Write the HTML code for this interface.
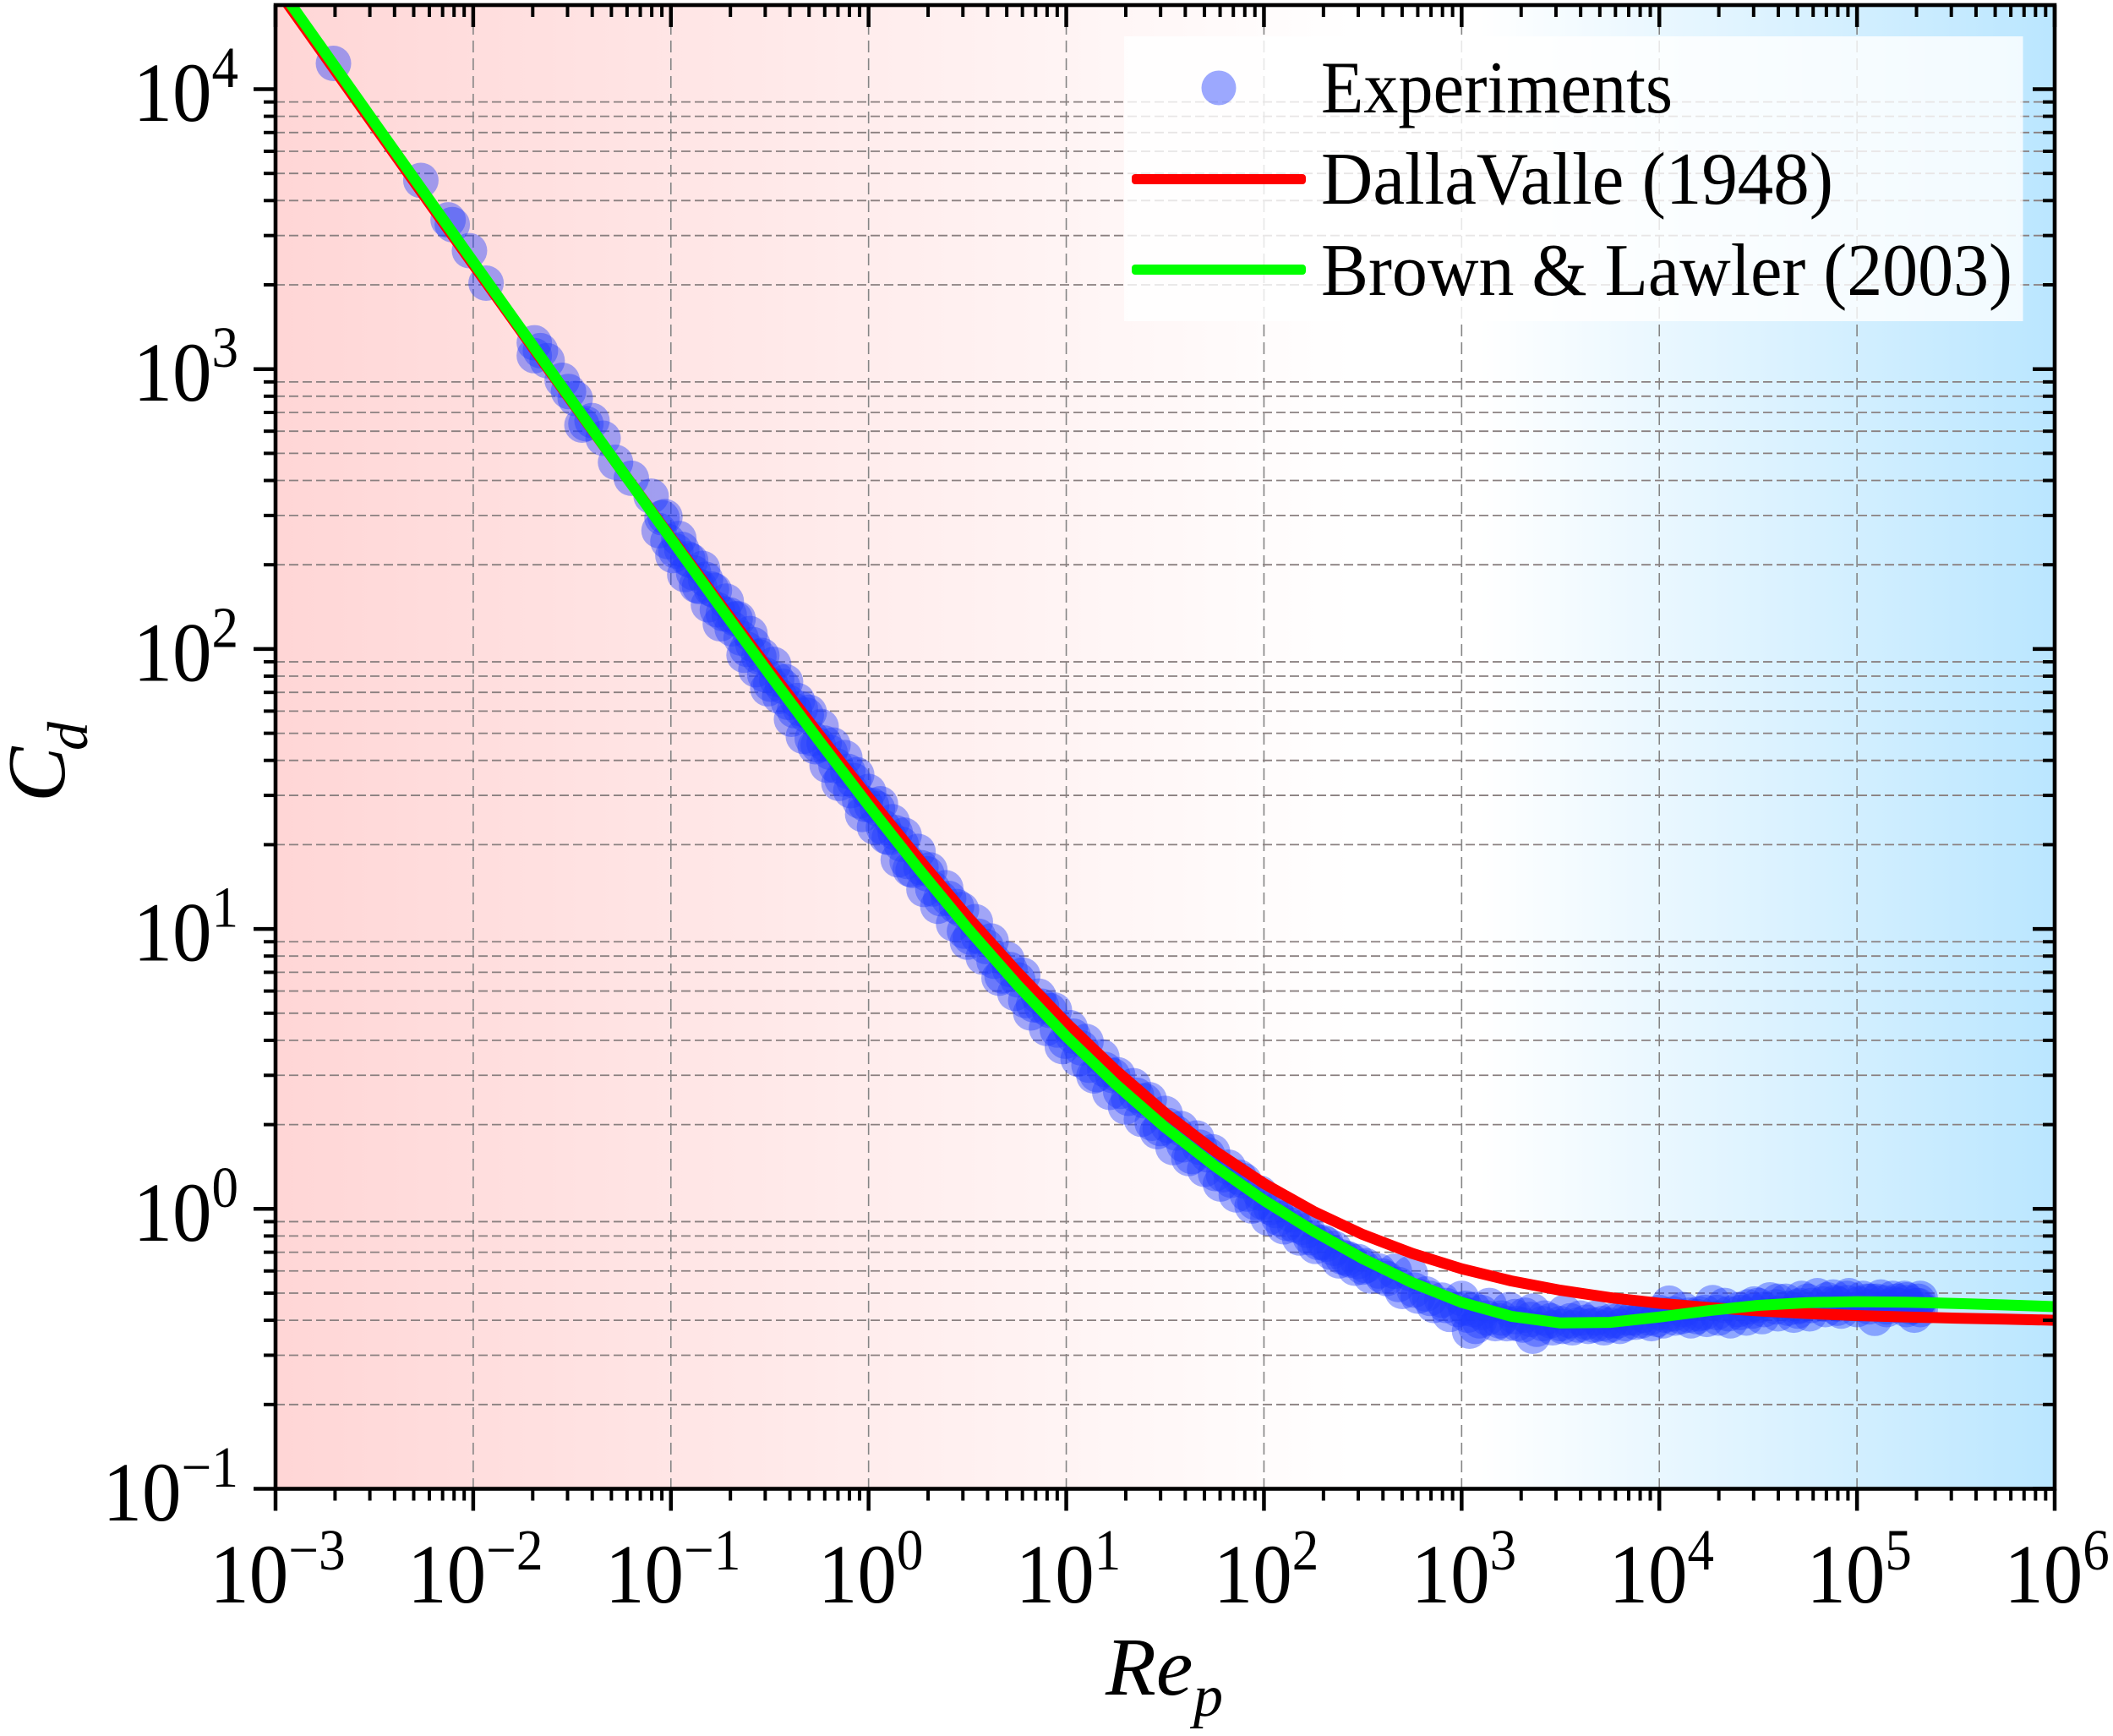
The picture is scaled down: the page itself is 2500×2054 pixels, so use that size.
<!DOCTYPE html>
<html lang="en">
<head>
<meta charset="utf-8">
<title>Drag coefficient vs particle Reynolds number</title>
<style>
html,body{margin:0;padding:0;background:#fff;width:2500px;height:2054px;overflow:hidden}
svg{display:block}
text{font-family:"Liberation Serif","Times New Roman",serif;fill:#000}
</style>
</head>
<body>
<svg id="chart" xmlns="http://www.w3.org/2000/svg" width="2500" height="2054" viewBox="0 0 2500 2054">
<defs>
<linearGradient id="bgGrad" x1="0" y1="0" x2="1" y2="0">
<stop offset="0" stop-color="#ffd6d6"/>
<stop offset="0.605" stop-color="#ffffff"/>
<stop offset="0.677" stop-color="#ffffff"/>
<stop offset="1" stop-color="#bae6ff"/>
</linearGradient>
<clipPath id="plotClip"><rect x="326" y="6" width="2105" height="1755.5"/></clipPath>
</defs>
<rect x="326" y="6" width="2105" height="1755.5" fill="url(#bgGrad)"/>
<g id="grid"></g>
<g id="scatter" clip-path="url(#plotClip)"></g>
<g id="curves" clip-path="url(#plotClip)"></g>
<g id="ticks"></g>
<g id="spines"></g>
<g id="labels"></g>
<text x="1308" y="2005" font-size="98" font-style="italic">Re</text>
<text x="1412" y="2030" font-size="70" font-style="italic">p</text>
<text transform="translate(76 949) rotate(-90)" font-size="98" font-style="italic">C</text>
<text transform="translate(103 888) rotate(-90)" font-size="68" font-style="italic">d</text>
<g>
<rect x="1330" y="43" width="1063.5" height="337" fill="#ffffff" fill-opacity="0.8"/>
<ellipse cx="1442" cy="104" rx="20.5" ry="20.5" fill="rgb(30,60,255)" fill-opacity="0.44"/>
<rect x="1339" y="206" width="206" height="12" rx="4" fill="#ff0000"/>
<rect x="1339" y="313" width="206" height="12" rx="4" fill="#00ff00"/>
<text x="1563" y="133" font-size="88" textLength="416" lengthAdjust="spacingAndGlyphs">Experiments</text>
<text x="1563" y="241" font-size="88" textLength="606" lengthAdjust="spacingAndGlyphs">DallaValle (1948)</text>
<text x="1563" y="349" font-size="88" textLength="818" lengthAdjust="spacingAndGlyphs">Brown &amp; Lawler (2003)</text>
</g>
</svg>
<script>
// ---- Axis tick data ----
const xTickExponents = [-3,-2,-1,0,1,2,3,4,5,6];
const yTickExponents = [-1,0,1,2,3,4];
const minorMultipliers = [2,3,4,5,6,7,8,9];

// ---- Model curves ----
const curveRe = [1e-3,1.78e-3,3.16e-3,5.62e-3,1e-2,1.78e-2,3.16e-2,5.62e-2,1e-1,1.78e-1,3.16e-1,5.62e-1,1,1.78,3.16,5.62,1e1,1.78e1,3.16e1,5.62e1,1e2,1.78e2,3.16e2,5.62e2,1e3,1.78e3,3.16e3,5.62e3,1e4,1.78e4,3.16e4,5.62e4,1e5,1.78e5,3.16e5,5.62e5,1e6];
const dallaValleCd = [23232,13101,7394,4178,2365,1341,763,435.6,249.9,144.3,84.0,49.43,29.48,17.89,11.08,7.044,4.613,3.127,2.201,1.613,1.232,0.980,0.810,0.693,0.611,0.553,0.512,0.482,0.460,0.444,0.432,0.423,0.416,0.411,0.407,0.404,0.400];
const brownLawlerCd = [24033,13523,7612,4287,2415.6,1362.6,769.7,435.8,247.5,141.2,81.09,47.0,27.6,16.49,10.08,6.343,4.127,2.787,1.956,1.426,1.073,0.8327,0.6639,0.545,0.4633,0.4133,0.3912,0.3932,0.4106,0.4331,0.4519,0.4627,0.4661,0.4642,0.4595,0.4536,0.4474];

// ---- Experimental points, as log10(Re_p) and log10(C_d) ----
const expLogRe = [
-2.707,-2.265,-2.127,-2.106,-2.019,-1.935,-1.691,-1.691,-1.66,-1.626,-1.55,-1.518,-1.484,-1.45,-1.43,-1.399,-1.343,-1.28,-1.2,
-1.10,-1.06,-1.03,-0.99,-0.96,-0.93,-0.9,-0.87,-0.84,-0.81,-0.78,-0.75,-0.72,-0.69,-0.66,-0.63,-0.6,-0.57,-0.54,-0.51,
-0.48,-0.45,-0.42,-0.39,-0.36,-0.33,-0.3,-0.27,-0.24,-0.21,-0.18,-0.15,-0.12,-0.09,-0.06,-0.03,0,0.03,0.06,0.09,
0.12,0.15,0.18,0.21,0.25,0.28,0.31,0.35,0.39,0.43,0.47,0.5,0.54,0.58,0.62,0.66,0.7,0.74,0.78,0.82,
0.86,0.9,0.94,0.98,1.02,1.06,1.1,1.14,1.18,1.22,1.26,1.3,1.34,1.38,1.42,1.46,1.5,1.54,1.58,1.62,
1.66,1.7,1.74,1.78,1.82,1.86,1.9,1.94,1.98,2.02,2.06,2.1,2.14,2.18,2.22,2.26,2.3,2.34,2.38,2.42,
2.46,2.5,2.54,2.58,2.62,2.66,2.7,2.74,2.78,2.82,2.86,2.9,2.94,2.98,3.0,3.02,3.04,3.06,3.07,3.1,
3.14,3.17,3.2,3.24,3.28,3.32,3.36,3.36,3.38,3.42,3.46,3.5,3.52,3.56,3.6,3.64,3.68,3.72,3.76,3.8,
3.84,3.88,3.92,3.96,4.0,4.02,4.05,4.08,4.12,4.16,4.2,4.24,4.27,4.3,4.33,4.36,4.4,4.44,4.48,4.5,
4.52,4.56,4.6,4.64,4.68,4.7,4.72,4.76,4.8,4.84,4.88,4.9,4.92,4.96,5.0,5.03,5.05,5.06,5.09,5.12,
5.15,5.18,5.2,5.21,5.24,5.27,5.29,5.3,5.31,5.32,5.32
];
const expLogCd = [
4.092,3.674,3.533,3.516,3.423,3.307,3.094,3.048,3.066,3.03,2.96,2.92,2.895,2.80,2.805,2.816,2.753,2.667,2.61,
2.546,2.423,2.473,2.334,2.395,2.266,2.316,2.227,2.288,2.158,2.209,2.09,2.171,2.072,2.108,1.978,2.055,1.926,1.977,1.858,
1.945,1.831,1.883,1.749,1.816,1.688,1.774,1.651,1.723,1.585,1.657,1.52,1.612,1.494,1.551,1.409,1.491,1.364,1.447,1.33,
1.383,1.247,1.335,1.213,1.277,1.141,1.211,1.081,1.147,1.018,1.069,0.953,1.026,0.899,0.957,0.824,0.892,0.77,0.835,0.7,
0.76,0.645,0.71,0.58,0.647,0.535,0.598,0.475,0.543,0.416,0.479,0.364,0.44,0.32,0.39,0.276,0.341,0.219,0.287,0.18,
0.253,0.141,0.204,0.089,0.149,0.05,0.10,0.01,0.056,-0.033,-0.006,-0.064,-0.021,-0.104,-0.077,-0.134,-0.12,-0.155,-0.186,-0.177,
-0.212,-0.208,-0.24,-0.222,-0.249,-0.223,-0.295,-0.231,-0.312,-0.304,-0.345,-0.326,-0.377,-0.359,-0.32,-0.355,-0.437,-0.36,-0.42,-0.37,
-0.345,-0.41,-0.39,-0.36,-0.41,-0.38,-0.455,-0.365,-0.43,-0.39,-0.425,-0.41,-0.37,-0.425,-0.39,-0.42,-0.39,-0.425,-0.40,-0.42,
-0.39,-0.405,-0.38,-0.41,-0.37,-0.40,-0.337,-0.39,-0.36,-0.40,-0.375,-0.395,-0.335,-0.39,-0.345,-0.40,-0.36,-0.39,-0.34,-0.345,
-0.385,-0.325,-0.375,-0.33,-0.38,-0.35,-0.32,-0.375,-0.31,-0.36,-0.315,-0.34,-0.365,-0.31,-0.36,-0.32,-0.33,-0.35,-0.391,-0.315,
-0.35,-0.32,-0.33,-0.345,-0.32,-0.35,-0.38,-0.345,-0.33,-0.36,-0.32
];
// Densely overlapping points along the middle of the band
const denseLogRe = [
-1.045,-0.975,-0.915,-0.855,-0.795,-0.735,-0.675,-0.615,-0.555,-0.495,-0.435,-0.375,-0.315,-0.255,-0.195,-0.135,-0.075,-0.015,0.045,0.105,
0.165,0.225,0.295,0.365,0.445,0.515,0.595,0.675,0.755,0.835,0.915,0.995,1.075,1.155,1.235,1.315,1.395,1.475,1.555,1.635,
1.715,1.795,1.875,1.955,2.035,2.115,2.195,2.275,2.355,2.435,2.515,2.6,2.68,2.76,2.84,2.92,
-1.015,-0.945,-0.885,-0.825,-0.765,-0.705,-0.645,-0.585,-0.525,-0.465,-0.405,-0.345,-0.285,-0.225,-0.165,-0.105,-0.045,0.015,0.075,0.135,
0.195,0.265,0.325,0.405,0.485,0.555,0.635,0.715,0.795,0.875,0.955,1.035,1.115,1.195,1.275,1.355,1.435,1.515,1.595,1.675,
1.755,1.835,1.915,1.995,2.075,2.155,2.235,2.315,2.395,2.475,
3.03,3.09,3.13,3.19,3.23,3.27,3.31,3.35,3.41,3.45,3.51,3.55,3.59,3.63,3.67,3.71,3.75,3.79,3.83,3.87,
3.91,3.95,3.99,4.03,4.07,4.11,4.15,4.19,4.23,4.29,4.35,4.41,4.47,4.53,4.59,4.65,4.71,4.77,4.83,4.89,
4.95,5.01,5.07,5.13,5.19,5.25,5.31,4.85,4.95,5.1,5.25,4.75,4.6,4.45,5.15,5.25,4.9,4.7
];
const denseLogCd = [
2.469,2.35,2.322,2.223,2.214,2.126,2.108,1.999,1.972,1.874,1.867,1.78,1.764,1.657,1.631,1.536,1.53,1.445,1.43,1.326,
1.303,1.209,1.197,1.108,1.08,0.971,0.937,0.832,0.818,0.729,0.709,0.599,0.575,0.48,0.476,0.395,0.386,0.287,0.271,0.187,
0.193,0.122,0.113,0.023,0.005,-0.051,-0.066,-0.12,-0.141,-0.183,-0.203,-0.24,-0.27,-0.29,-0.32,-0.345,
2.384,2.356,2.272,2.249,2.14,2.122,2.039,2.016,1.908,1.891,1.809,1.787,1.68,1.664,1.583,1.563,1.457,1.442,1.363,1.344,
1.241,1.219,1.143,1.109,0.992,0.974,0.885,0.855,0.744,0.724,0.639,0.617,0.513,0.498,0.42,0.406,0.306,0.298,0.229,0.22,
0.126,0.102,0.053,0.024,-0.033,-0.058,-0.103,-0.126,-0.172,-0.188,
-0.38,-0.40,-0.39,-0.40,-0.41,-0.385,-0.415,-0.395,-0.41,-0.40,-0.42,-0.40,-0.415,-0.405,-0.415,-0.41,-0.415,-0.40,-0.41,-0.39,
-0.40,-0.39,-0.395,-0.38,-0.375,-0.385,-0.38,-0.385,-0.37,-0.37,-0.375,-0.37,-0.365,-0.36,-0.35,-0.355,-0.345,-0.345,-0.34,-0.335,
-0.335,-0.34,-0.33,-0.335,-0.34,-0.335,-0.345,-0.325,-0.32,-0.33,-0.325,-0.33,-0.33,-0.35,-0.36,-0.36,-0.355,-0.365
];

// ---- Axis functions ----
const xLeft = 326, xRight = 2431, yTop = 6, yBottom = 1761.5;
const xDecade = (xRight - xLeft) / 9;
const yDecade = 331.2;
function xFromLog(k){ return xLeft + (k + 3) * xDecade; }
function yFromLog(k){ return yBottom - (k + 1) * yDecade; }
function xScale(v){ return xFromLog(Math.log10(v)); }
function yScale(v){ return yFromLog(Math.log10(v)); }

const NS = 'http://www.w3.org/2000/svg';
function make(tag, parentId){
  const el = document.createElementNS(NS, tag);
  document.getElementById(parentId).appendChild(el);
  return el;
}
function drawLine(parentId, x1, y1, x2, y2, stroke, width, dash){
  const el = make('line', parentId);
  el.setAttribute('x1', x1);
  el.setAttribute('y1', y1);
  el.setAttribute('x2', x2);
  el.setAttribute('y2', y2);
  el.setAttribute('stroke', stroke);
  el.setAttribute('stroke-width', width);
  if (dash) el.setAttribute('stroke-dasharray', dash);
  return el;
}

// ---- Grid ----
for (const e of xTickExponents) {
  if (e === -3 || e === 6) continue;
  const g = drawLine('grid', xFromLog(e), yTop, xFromLog(e), yBottom, '#858585', 1.6, '14 7');
  
  
}
for (const e of [-1,0,1,2,3,4]) {
  for (const m of minorMultipliers) {
    const y = yScale(m * Math.pow(10, e));
    if (y < yTop) continue;
    const g = drawLine('grid', xLeft, y, xRight, y, '#8a8080', 1.8, '11 5');
    
    
  }
}

// ---- Experiments ----
function drawPoints(logRe, logCd){
  for (let i = 0; i < logRe.length; i++) {
    const c = make('circle', 'scatter');
    c.setAttribute('cx', xFromLog(logRe[i]));
    c.setAttribute('cy', yFromLog(logCd[i]));
    c.setAttribute('r', 21);
    c.setAttribute('fill', 'rgb(30,60,255)');
    c.setAttribute('fill-opacity', '0.42');
    
    
  }
}
drawPoints(expLogRe, expLogCd);
drawPoints(denseLogRe, denseLogCd);

// ---- Curves ----
function curvePath(values){
  return values.map((v, i) => (i ? 'L' : 'M') + xScale(curveRe[i]).toFixed(1) + ' ' + yScale(v).toFixed(1)).join(' ');
}
const redLine = make('path', 'curves');
redLine.setAttribute('d', curvePath(dallaValleCd));
redLine.setAttribute('fill', 'none');
redLine.setAttribute('stroke', '#ff0000');
redLine.setAttribute('stroke-width', '13');
redLine.setAttribute('stroke-linejoin', 'round');


const greenLine = make('path', 'curves');
greenLine.setAttribute('d', curvePath(brownLawlerCd));
greenLine.setAttribute('fill', 'none');
greenLine.setAttribute('stroke', '#00ff00');
greenLine.setAttribute('stroke-width', '13');
greenLine.setAttribute('stroke-linejoin', 'round');



// ---- Ticks ----
const majorLen = 26, minorLen = 14, majorW = 4.5, minorW = 4;
for (const e of xTickExponents) {
  const x = xFromLog(e);
  const b = drawLine('ticks', x, yBottom, x, yBottom + majorLen, '#000', majorW);
  
  
  const t = drawLine('ticks', x, yTop, x, yTop + majorLen, '#000', majorW);
  
  
  if (e === 6) continue;
  for (const m of minorMultipliers) {
    const xm = xScale(m * Math.pow(10, e));
    const bm = drawLine('ticks', xm, yBottom, xm, yBottom + minorLen, '#000', minorW);
    
    
    const tm = drawLine('ticks', xm, yTop, xm, yTop + minorLen, '#000', minorW);
    
    
  }
}
for (const e of yTickExponents) {
  const y = yFromLog(e);
  const l = drawLine('ticks', xLeft - majorLen, y, xLeft, y, '#000', majorW);
  
  
  const r = drawLine('ticks', xRight - majorLen, y, xRight, y, '#000', majorW);
  
  
  for (const m of minorMultipliers) {
    const ym = yScale(m * Math.pow(10, e));
    if (ym < yTop) continue;
    const lm = drawLine('ticks', xLeft - minorLen, ym, xLeft, ym, '#000', minorW);
    
    
    const rm = drawLine('ticks', xRight - minorLen, ym, xRight, ym, '#000', minorW);
    
    
  }
}

// ---- Frame ----
const frame = make('rect', 'spines');
frame.setAttribute('x', xLeft);
frame.setAttribute('y', yTop);
frame.setAttribute('width', xRight - xLeft);
frame.setAttribute('height', yBottom - yTop);
frame.setAttribute('fill', 'none');
frame.setAttribute('stroke', '#000');
frame.setAttribute('stroke-width', '4.6');



// ---- Tick labels ----
const baseSize = 100, expSize = 69;
const baseW = 93, minusW = 36, digitW = 31.5;
function expString(e){ return (e < 0 ? '\u2212' : '') + Math.abs(e); }
function expWidth(e){ return (e < 0 ? minusW : 0) + digitW; }
for (const e of xTickExponents) {
  const cx = xFromLog(e) + 2.5;
  const start = cx - (baseW + expWidth(e)) / 2;
  const base = make('text', 'labels');
  base.setAttribute('x', start);
  base.setAttribute('y', 1896);
  base.setAttribute('font-size', baseSize);
  base.setAttribute('textLength', baseW);
  base.setAttribute('lengthAdjust', 'spacingAndGlyphs');
  base.textContent = '10';
  
  
  const sup = make('text', 'labels');
  sup.setAttribute('x', start + baseW);
  sup.setAttribute('y', 1857);
  sup.setAttribute('font-size', expSize);
  sup.setAttribute('textLength', expWidth(e));
  sup.setAttribute('lengthAdjust', 'spacingAndGlyphs');
  sup.textContent = expString(e);
  
  
}
for (const e of yTickExponents) {
  const tick = yFromLog(e);
  const rightEdge = 282;
  const start = rightEdge - expWidth(e) - baseW;
  const base = make('text', 'labels');
  base.setAttribute('x', start);
  base.setAttribute('y', tick + 37.5);
  base.setAttribute('font-size', baseSize);
  base.setAttribute('textLength', baseW);
  base.setAttribute('lengthAdjust', 'spacingAndGlyphs');
  base.textContent = '10';
  
  
  const sup = make('text', 'labels');
  sup.setAttribute('x', start + baseW);
  sup.setAttribute('y', tick - 2.5);
  sup.setAttribute('font-size', expSize);
  sup.setAttribute('textLength', expWidth(e));
  sup.setAttribute('lengthAdjust', 'spacingAndGlyphs');
  sup.textContent = expString(e);
  
  
}
</script>
</body>
</html>
